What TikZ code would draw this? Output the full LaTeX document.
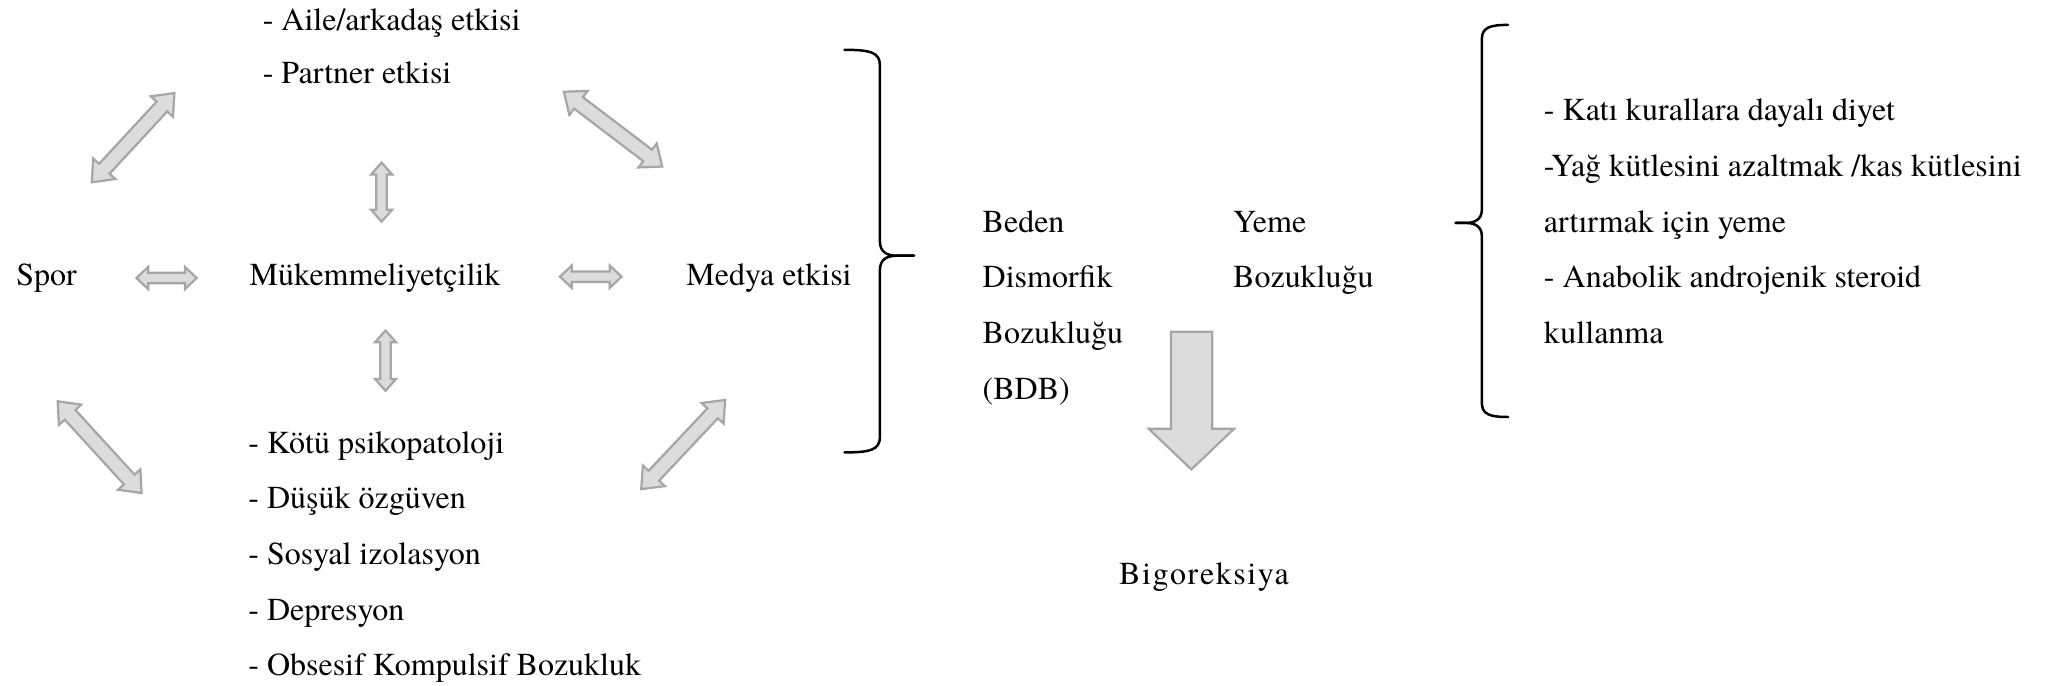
\documentclass[tikz,border=0pt]{standalone}
\usepackage{fontspec}
\setmainfont{texgyretermes}[Extension=.otf, UprightFont=*-regular, BoldFont=*-bold, ItalicFont=*-italic, BoldItalicFont=*-bolditalic]
\usetikzlibrary{calc}
\definecolor{afill}{HTML}{DCDCDC}
\definecolor{aline}{HTML}{A6A6A6}
\tikzset{
  txt/.style={anchor=base west, inner sep=0pt, font=\fontsize{12.2}{14}\selectfont},
  blockarrow/.style={fill=afill, draw=aline, line width=0.85pt, line join=miter},
  bracestyle/.style={draw=black, line width=0.95pt, line cap=round}
}
\newcommand\blockdbl[5]{%
  \coordinate (q1) at ($(#1)!#5!(#2)$);
  \coordinate (q2) at ($(#2)!#5!(#1)$);
  \draw[blockarrow] (#1) -- ($(q1)!#4!90:(#2)$) -- ($(q1)!#3!90:(#2)$) -- ($(q2)!#3!-90:(#1)$) -- ($(q2)!#4!-90:(#1)$) -- (#2) -- ($(q2)!#4!90:(#1)$) -- ($(q2)!#3!90:(#1)$) -- ($(q1)!#3!-90:(#2)$) -- ($(q1)!#4!-90:(#2)$) -- cycle;
}
\begin{document}
\begin{tikzpicture}[x=0.5pt, y=-0.5pt]
\useasboundingbox (0,0) rectangle (1561,523);

% texts
\node[txt] (aile) at (200,23) {- Aile/arkadaş etkisi};
\node[txt] (partner) at (200,64) {- Partner etkisi};
\node[txt] (spor) at (12,218) {Spor};
\node[txt] (muk) at (190,218) {Mükemmeliyetçilik};
\node[txt] (medya) at (523,218) {Medya etkisi};
\node[txt] (l1) at (189,346) {- Kötü psikopatoloji};
\node[txt] (l2) at (189,388) {- Düşük özgüven};
\node[txt] (l3) at (189,430.5) {- Sosyal izolasyon};
\node[txt] (l4) at (189,473) {- Depresyon};
\node[txt] (l5) at (189,515) {- Obsesif Kompulsif Bozukluk};

\node[txt] (b1) at (749,177) {Beden};
\node[txt] (b2) at (749,219.5) {Dismorfik};
\node[txt] (b3) at (749,262) {Bozukluğu};
\node[txt] (b4) at (749,304.5) {(BDB)};
\node[txt] (y1) at (940,177) {Yeme};
\node[txt] (y2) at (940,219.5) {Bozukluğu};

\node[txt, font=\fontsize{12.2}{14}\selectfont\addfontfeature{LetterSpace=5}] (big) at (853,446) {Bigoreksiya};

\node[txt] (r1) at (1177,92) {- Katı kurallara dayalı diyet};
\node[txt] (r2) at (1177,134.5) {-Yağ kütlesini azaltmak /kas kütlesini};
\node[txt] (r3) at (1177,177) {artırmak için yeme};
\node[txt] (r4) at (1177,219.5) {- Anabolik androjenik steroid};
\node[txt] (r5) at (1177,262) {kullanma};

% arrow end points
\coordinate (tlA) at (70,139);  \coordinate (tlB) at (133,71);
\coordinate (trA) at (430,70);  \coordinate (trB) at (505,127);
\coordinate (blA) at (44,306);  \coordinate (blB) at (108,376);
\coordinate (brA) at (489,373); \coordinate (brB) at (553,305);
\coordinate (vtA) at (291,124); \coordinate (vtB) at (291,169);
\coordinate (vbA) at (294,252); \coordinate (vbB) at (294,298);
\coordinate (hlA) at (104,212); \coordinate (hlB) at (150,212);
\coordinate (hrA) at (427,211); \coordinate (hrB) at (474,211);

\blockdbl{tlA}{tlB}{2.75pt}{5.75pt}{7pt}
\blockdbl{trA}{trB}{2.75pt}{5.75pt}{7pt}
\blockdbl{blA}{blB}{2.75pt}{5.75pt}{7pt}
\blockdbl{brA}{brB}{2.75pt}{5.75pt}{7pt}
\blockdbl{vtA}{vtB}{2pt}{4pt}{4.5pt}
\blockdbl{vbA}{vbB}{2pt}{4pt}{4.5pt}
\blockdbl{hlA}{hlB}{2pt}{4.25pt}{4.5pt}
\blockdbl{hrA}{hrB}{2pt}{4.25pt}{4.5pt}

% big down arrow
\coordinate (bigtop) at (908.5,253);
\coordinate (bigtip) at (908.5,358);
\draw[blockarrow] (893,253) -- (924.5,253) -- (924.5,327) -- (941,327) -- (bigtip) -- (876,327) -- (893,327) -- cycle;

% braces
\draw[bracestyle] (644,38) .. controls (664,38) and (671,40) .. (671,50) -- (671,184) .. controls (671,192) and (676,195) .. (684,195) -- (697,195);
\draw[bracestyle] (697,195) -- (684,195) .. controls (676,195) and (671,198) .. (671,206) -- (671,333) .. controls (671,343) and (664,345) .. (644,345);

\draw[bracestyle] (1150,19) .. controls (1136,19) and (1130,21) .. (1130,30) -- (1130,160) .. controls (1130,167) and (1125,170) .. (1118,170) -- (1110,170);
\draw[bracestyle] (1110,170) -- (1118,170) .. controls (1125,170) and (1130,173) .. (1130,180) -- (1130,307) .. controls (1130,316) and (1136,318) .. (1150,318);
\end{tikzpicture}
\end{document}
